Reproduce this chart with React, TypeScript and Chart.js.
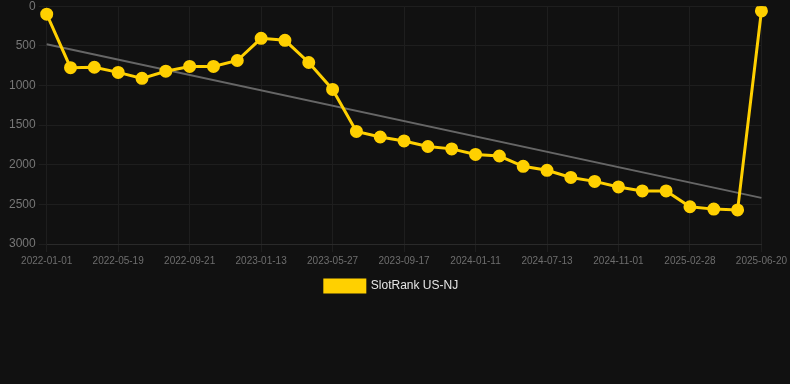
import React, { useEffect, useRef } from "react";
import { Chart, registerables } from "chart.js";

Chart.register(...registerables);

const dates = [
  "2022-01-01", "2022-02-15", "2022-04-02", "2022-05-19", "2022-07-01", "2022-08-11",
  "2022-09-21", "2022-10-30", "2022-12-06", "2023-01-13", "2023-02-26", "2023-04-12",
  "2023-05-27", "2023-07-04", "2023-08-10", "2023-09-17", "2023-10-26", "2023-12-03",
  "2024-01-11", "2024-03-12", "2024-05-12", "2024-07-13", "2024-08-19", "2024-09-25",
  "2024-11-01", "2024-12-10", "2025-01-19", "2025-02-28", "2025-04-06", "2025-05-13",
  "2025-06-20",
];

const rankValues = [
  100, 775, 770, 835, 910, 820, 760, 760, 685, 405, 430, 710,
  1050, 1580, 1650, 1700, 1770, 1800, 1870, 1890, 2020, 2070, 2160, 2210,
  2280, 2330, 2330, 2530, 2560, 2570, 60,
];

const trendStart = 481;
const trendEnd = 2418;

const seriesLabel = "SlotRank US-NJ";

export default function App() {
  const ref = useRef<HTMLCanvasElement | null>(null);

  useEffect(() => {
    document.body.style.margin = "0";
    document.body.style.background = "#111111";
    if (!ref.current) return;
    const chart = new Chart(ref.current, {
      type: "line",
      data: {
        labels: dates,
        datasets: [
          {
            label: seriesLabel,
            data: rankValues,
            borderColor: "#ffd000",
            backgroundColor: "#ffd000",
            borderWidth: 3,
            pointRadius: 5,
            pointHoverRadius: 5,
            pointBackgroundColor: "#ffd000",
            pointBorderColor: "#ffd000",
            tension: 0,
          },
          {
            label: "trend",
            data: [
              { x: dates[0], y: trendStart },
              { x: dates[dates.length - 1], y: trendEnd },
            ] as any,
            borderColor: "#666666",
            borderWidth: 2,
            pointRadius: 0,
            tension: 0,
          },
        ],
      },
      options: {
        animation: false,
        responsive: true,
        maintainAspectRatio: false,
        layout: { padding: { left: 6, right: 13 } },
        plugins: {
          tooltip: { enabled: false },
          legend: {
            position: "bottom",
            labels: {
              color: "#e6e6e6",
              font: { size: 12, family: "'Liberation Sans', Arial, sans-serif" },
              boxWidth: 40,
              boxHeight: 12,
              filter: (item) => item.text === seriesLabel,
            },
          },
        },
        scales: {
          x: {
            type: "category",
            grid: { color: "#1e1e1e" },
            border: { color: "#2a2a2a" },
            ticks: {
              autoSkip: false,
              maxRotation: 0,
              color: "#6e6e6e",
              font: { size: 10, family: "'Liberation Sans', Arial, sans-serif" },
              callback: function (_v, i) {
                return i % 3 === 0 ? dates[i] : null;
              },
            },
          },
          y: {
            reverse: true,
            min: 0,
            max: 3000,
            grid: { color: "#1e1e1e" },
            border: { color: "#1e1e1e" },
            ticks: {
              stepSize: 500,
              color: "#777777",
              font: { size: 12, family: "'Liberation Sans', Arial, sans-serif" },
              callback: (v) => String(v),
            },
          },
        },
      },
    });
    return () => chart.destroy();
  }, []);

  return (
    <div style={{ width: 790, height: 306, marginTop: -4, position: "relative" }}>
      <canvas ref={ref} />
    </div>
  );
}
